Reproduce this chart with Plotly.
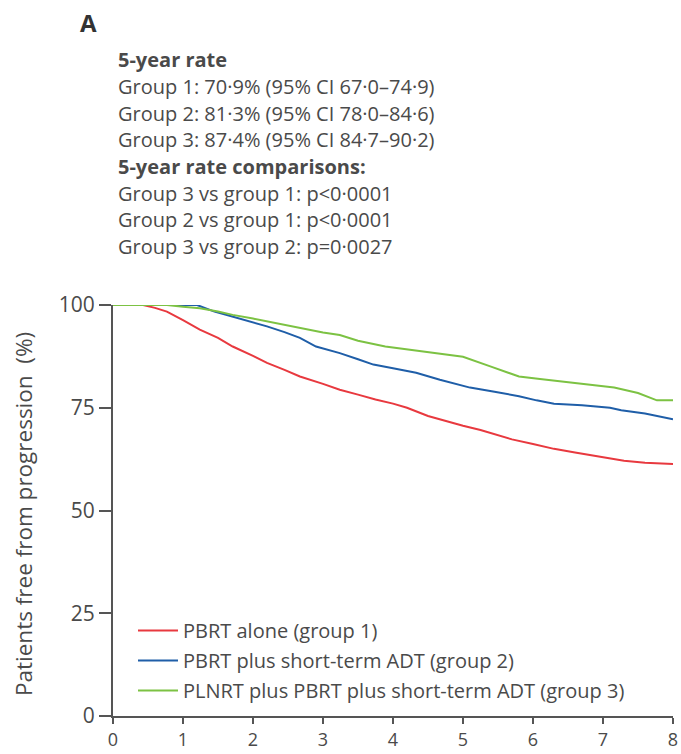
import plotly.graph_objects as go

# ---------------- data ----------------
years_g1 = [0, 0.43, 0.6, 0.77, 1.0, 1.24, 1.5, 1.71, 2.0, 2.2, 2.45, 2.67, 3.0, 3.24, 3.5, 3.75,
            4.0, 4.2, 4.5, 4.75, 5.0, 5.25, 5.5, 5.7, 6.0, 6.3, 6.6, 7.0, 7.3, 7.6, 8.0]
surv_g1 = [100, 100, 99.3, 98.4, 96.3, 94.0, 92.0, 89.9, 87.6, 85.9, 84.2, 82.6, 80.8, 79.4, 78.2, 77.0,
           76.0, 75.0, 73.0, 71.8, 70.6, 69.6, 68.3, 67.3, 66.2, 65.0, 64.1, 63.0, 62.1, 61.6, 61.3]

years_g2 = [0, 1.2, 1.45, 1.71, 2.0, 2.2, 2.45, 2.67, 2.9, 3.24, 3.5, 3.72, 4.0, 4.33, 4.67, 5.1,
            5.45, 5.8, 6.05, 6.3, 6.7, 7.1, 7.26, 7.6, 8.0]
surv_g2 = [100, 100, 98.4, 97.2, 95.9, 94.8, 93.4, 92.0, 89.9, 88.3, 86.8, 85.5, 84.6, 83.5, 81.8, 79.9,
           78.9, 77.8, 76.8, 76.0, 75.6, 75.0, 74.4, 73.6, 72.2]

years_g3 = [0, 0.77, 1.0, 1.24, 1.5, 1.71, 2.0, 2.2, 2.45, 2.67, 3.0, 3.24, 3.5, 3.89, 4.2, 4.56,
            5.0, 5.4, 5.8, 6.1, 6.4, 6.8, 7.16, 7.5, 7.77, 8.0]
surv_g3 = [100, 100, 99.6, 99.2, 98.4, 97.6, 96.7, 96.0, 95.2, 94.4, 93.3, 92.7, 91.3, 89.9, 89.2, 88.3,
           87.4, 85.0, 82.6, 82.0, 81.4, 80.6, 79.9, 78.6, 76.8, 76.8]

series_names = ["PBRT alone (group 1)",
                "PBRT plus short-term ADT (group 2)",
                "PLNRT plus PBRT plus short-term ADT (group 3)"]
series_colors = ["#e8393f", "#1f5ea8", "#7cc243"]

x_ticks = [0, 1, 2, 3, 4, 5, 6, 7, 8]
y_ticks = [0, 25, 50, 75, 100]

panel_label = "A"
info_lines = [
    "<b>5-year rate</b>",
    "Group 1: 70·9% (95% CI 67·0–74·9)",
    "Group 2: 81·3% (95% CI 78·0–84·6)",
    "Group 3: 87·4% (95% CI 84·7–90·2)",
    "<b>5-year rate comparisons:</b>",
    "Group 3 vs group 1: p<0·0001",
    "Group 2 vs group 1: p<0·0001",
    "Group 3 vs group 2: p=0·0027",
]
y_title = "Patients free from progression\u00a0\u00a0(%)"

# ---------------- layout geometry ----------------
W, H = 681, 754
L, R, T, B = 113, 8, 305, 38
PW, PH = W - L - R, H - T - B
FONT = "Open Sans"
TXT = "#4a4a4a"


def px_x(px):
    return (px - L) / PW


def px_y(py):
    return (H - B - py) / PH


fig = go.Figure()
for xs, ys, name, col, grp in zip([years_g1, years_g2, years_g3],
                                  [surv_g1, surv_g2, surv_g3],
                                  series_names, series_colors, ["g1", "g2", "g3"]):
    fig.add_trace(go.Scatter(x=xs, y=ys, mode="lines", name=name, legendgroup=grp,
                             line=dict(color=col, width=2), cliponaxis=False))

annotations = [dict(text="<b>" + panel_label + "</b>", x=px_x(78), y=px_y(22), xref="paper", yref="paper",
                    xanchor="left", yanchor="middle", showarrow=False,
                    font=dict(family=FONT, size=24, color="#333"))]
line_y0, line_dy = 60, 26.6
for i, t in enumerate(info_lines):
    annotations.append(dict(text=t, x=px_x(116), y=px_y(line_y0 + i * line_dy), xref="paper", yref="paper",
                            xanchor="left", yanchor="middle", showarrow=False,
                            font=dict(family=FONT, size=20, color=TXT)))
annotations.append(dict(text=y_title, x=px_x(23), y=px_y(514), xref="paper", yref="paper",
                        xanchor="center", yanchor="middle", textangle=-90, showarrow=False,
                        font=dict(family=FONT, size=22.5, color=TXT)))

fig.update_layout(
    width=W, height=H, margin=dict(l=L, r=R, t=T, b=B, autoexpand=False),
    plot_bgcolor="white", paper_bgcolor="white",
    showlegend=True,
    legend=dict(x=px_x(133), y=px_y(611), xanchor="left", yanchor="top",
                bgcolor="rgba(0,0,0,0)", font=dict(family=FONT, size=20, color=TXT),
                tracegroupgap=1, traceorder="grouped", itemwidth=40),
    annotations=annotations,
    xaxis=dict(range=[0, 8], tickvals=x_ticks, showgrid=False, zeroline=False,
               showline=True, linecolor="#555", linewidth=2, ticks="outside", ticklen=6,
               tickwidth=2, tickcolor="#555", tickfont=dict(family=FONT, size=18, color=TXT)),
    yaxis=dict(range=[0, 100], tickvals=y_ticks, showgrid=False, zeroline=False,
               showline=True, linecolor="#555", linewidth=2, ticks="outside", ticklen=12,
               tickwidth=2, tickcolor="#555", tickfont=dict(family=FONT, size=21, color=TXT)),
)

fig.write_html("out.html")
